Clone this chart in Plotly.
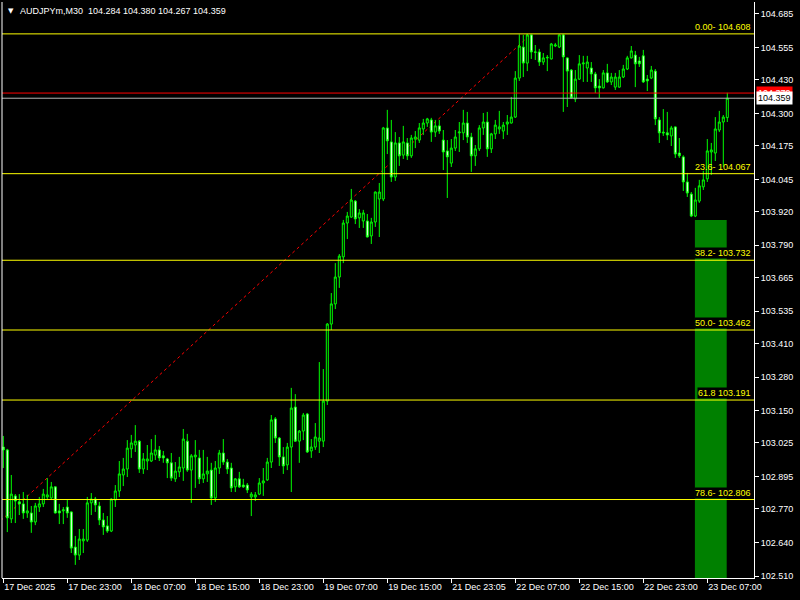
import plotly.graph_objects as go

# ---------------- data (AUDJPYm, M30) ----------------
OPEN = [103.009, 102.998, 102.731, 102.820, 102.797, 102.789, 102.754, 102.754, 102.719, 102.777,
        102.789, 102.816, 102.812, 102.855, 102.762, 102.762, 102.777, 102.758, 102.622, 102.591,
        102.646, 102.649, 102.793, 102.808, 102.781, 102.727, 102.704, 102.684, 102.804, 102.839,
        102.901, 102.924, 103.002, 103.017, 103.032, 102.924, 102.955, 102.955, 102.978, 102.998,
        102.975, 102.963, 102.948, 102.886, 102.913, 102.928, 103.032, 102.920, 102.971, 102.967,
        102.886, 102.905, 102.920, 102.812, 102.928, 102.986, 102.951, 102.928, 102.855, 102.886,
        102.862, 102.862, 102.816, 102.816, 102.827, 102.870, 102.882, 102.951, 103.118, 103.044,
        102.971, 102.940, 103.009, 103.164, 103.032, 103.071, 103.137, 102.994, 103.009, 103.032,
        103.032, 103.187, 103.485, 103.563, 103.667, 103.745, 103.876, 103.899, 103.961, 103.896,
        103.884, 103.884, 103.826, 103.880, 103.969, 103.969, 104.244, 104.190, 104.054, 104.186,
        104.139, 104.186, 104.136, 104.201, 104.197, 104.240, 104.263, 104.275, 104.228, 104.252,
        104.197, 104.155, 104.108, 104.166, 104.225, 104.225, 104.263, 104.209, 104.136, 104.163,
        104.244, 104.267, 104.163, 104.221, 104.240, 104.232, 104.259, 104.263, 104.286, 104.437,
        104.557, 104.495, 104.604, 104.538, 104.538, 104.499, 104.515, 104.511, 104.561, 104.557,
        104.604, 104.515, 104.468, 104.356, 104.433, 104.492, 104.476, 104.476, 104.453, 104.406,
        104.399, 104.457, 104.422, 104.402, 104.402, 104.441, 104.472, 104.515, 104.526, 104.503,
        104.523, 104.433, 104.437, 104.464, 104.275, 104.228, 104.225, 104.213, 104.248, 104.147,
        104.132, 104.035, 103.988, 103.903, 103.961, 104.016, 104.047, 104.151, 104.147, 104.236,
        104.267, 104.284]
HIGH = [103.052, 103.002, 102.901, 102.827, 102.827, 102.835, 102.824, 102.781, 102.793, 102.816,
        102.847, 102.889, 102.874, 102.857, 102.789, 102.777, 102.804, 102.760, 102.665, 102.692,
        102.692, 102.816, 102.831, 102.816, 102.797, 102.754, 102.742, 102.810, 102.862, 102.955,
        102.967, 103.036, 103.056, 103.094, 103.036, 102.986, 103.017, 103.040, 103.056, 103.013,
        102.994, 102.967, 102.986, 102.951, 102.971, 103.079, 103.060, 102.982, 103.036, 102.998,
        102.998, 102.971, 102.948, 102.955, 102.998, 103.040, 102.963, 102.948, 102.889, 102.913,
        102.886, 102.870, 102.835, 102.835, 102.889, 102.928, 102.967, 103.133, 103.125, 103.048,
        103.009, 103.025, 103.238, 103.214, 103.075, 103.141, 103.141, 103.040, 103.102, 103.338,
        103.311, 103.489, 103.605, 103.721, 103.756, 103.888, 103.919, 104.008, 103.965, 103.930,
        103.927, 103.911, 103.896, 103.998, 104.031, 104.248, 104.314, 104.275, 104.228, 104.209,
        104.252, 104.205, 104.217, 104.232, 104.263, 104.279, 104.283, 104.283, 104.275, 104.275,
        104.236, 104.197, 104.201, 104.236, 104.267, 104.314, 104.306, 104.225, 104.178, 104.255,
        104.302, 104.306, 104.225, 104.275, 104.310, 104.267, 104.294, 104.364, 104.464, 104.606,
        104.604, 104.608, 104.606, 104.565, 104.550, 104.534, 104.526, 104.573, 104.573, 104.605,
        104.607, 104.517, 104.472, 104.468, 104.526, 104.523, 104.523, 104.499, 104.461, 104.433,
        104.468, 104.492, 104.457, 104.457, 104.468, 104.488, 104.523, 104.561, 104.542, 104.519,
        104.546, 104.449, 104.484, 104.472, 104.286, 104.317, 104.306, 104.252, 104.250, 104.205,
        104.138, 104.070, 103.996, 104.012, 104.043, 104.078, 104.201, 104.186, 104.286, 104.310,
        104.294, 104.380]
LOW = [102.928, 102.680, 102.715, 102.715, 102.746, 102.731, 102.735, 102.677, 102.707, 102.758,
       102.777, 102.804, 102.804, 102.752, 102.711, 102.711, 102.735, 102.599, 102.553, 102.572,
       102.599, 102.642, 102.746, 102.758, 102.707, 102.669, 102.677, 102.680, 102.777, 102.816,
       102.858, 102.893, 102.967, 102.990, 102.909, 102.905, 102.920, 102.951, 102.959, 102.955,
       102.948, 102.889, 102.878, 102.874, 102.893, 102.878, 102.913, 102.793, 102.851, 102.866,
       102.870, 102.874, 102.785, 102.797, 102.905, 102.940, 102.905, 102.835, 102.835, 102.851,
       102.851, 102.831, 102.742, 102.800, 102.823, 102.820, 102.878, 102.928, 103.025, 102.936,
       102.905, 102.920, 102.835, 103.029, 102.948, 103.036, 102.986, 102.967, 102.998, 102.986,
       103.009, 103.172, 103.462, 103.543, 103.625, 103.721, 103.814, 103.896, 103.872, 103.857,
       103.857, 103.820, 103.795, 103.861, 103.822, 103.961, 104.143, 104.035, 104.039, 104.097,
       104.124, 104.120, 104.128, 104.166, 104.186, 104.217, 104.248, 104.190, 104.209, 104.221,
       104.081, 103.973, 104.093, 104.155, 104.151, 104.197, 104.186, 104.074, 104.097, 104.155,
       104.217, 104.132, 104.147, 104.201, 104.221, 104.201, 104.217, 104.261, 104.283, 104.426,
       104.441, 104.464, 104.511, 104.507, 104.484, 104.488, 104.464, 104.509, 104.557, 104.553,
       104.306, 104.325, 104.356, 104.344, 104.430, 104.422, 104.422, 104.422, 104.379, 104.360,
       104.397, 104.418, 104.410, 104.391, 104.400, 104.437, 104.468, 104.513, 104.402, 104.480,
       104.418, 104.387, 104.433, 104.255, 104.186, 104.213, 104.197, 104.174, 104.128, 104.128,
       104.000, 103.977, 103.899, 103.899, 103.954, 104.004, 104.035, 104.062, 104.116, 104.228,
       104.093, 104.267]
CLOSE = [102.998, 102.735, 102.827, 102.800, 102.789, 102.754, 102.762, 102.719, 102.781, 102.789,
         102.827, 102.824, 102.855, 102.754, 102.754, 102.766, 102.754, 102.618, 102.591, 102.653,
         102.653, 102.793, 102.808, 102.785, 102.727, 102.700, 102.684, 102.808, 102.839, 102.905,
         102.924, 103.005, 103.025, 103.032, 102.924, 102.963, 102.963, 102.986, 102.998, 102.967,
         102.967, 102.948, 102.889, 102.916, 102.932, 103.040, 102.920, 102.975, 102.978, 102.886,
         102.905, 102.916, 102.812, 102.928, 102.986, 102.951, 102.924, 102.851, 102.886, 102.855,
         102.855, 102.843, 102.827, 102.824, 102.870, 102.878, 102.951, 103.114, 103.044, 102.971,
         102.936, 103.009, 103.160, 103.032, 103.071, 103.133, 102.990, 103.009, 103.048, 103.044,
         103.187, 103.485, 103.563, 103.667, 103.748, 103.876, 103.903, 103.965, 103.892, 103.915,
         103.915, 103.822, 103.880, 103.996, 103.996, 104.244, 104.194, 104.054, 104.186, 104.136,
         104.190, 104.136, 104.205, 104.209, 104.244, 104.263, 104.279, 104.228, 104.252, 104.232,
         104.151, 104.132, 104.166, 104.209, 104.228, 104.263, 104.209, 104.136, 104.163, 104.244,
         104.267, 104.163, 104.221, 104.255, 104.248, 104.255, 104.267, 104.286, 104.437, 104.561,
         104.495, 104.604, 104.538, 104.537, 104.499, 104.515, 104.517, 104.569, 104.565, 104.604,
         104.519, 104.464, 104.360, 104.433, 104.492, 104.495, 104.499, 104.453, 104.399, 104.399,
         104.457, 104.422, 104.441, 104.441, 104.441, 104.472, 104.515, 104.542, 104.492, 104.492,
         104.422, 104.426, 104.468, 104.279, 104.225, 104.225, 104.217, 104.244, 104.143, 104.136,
         104.035, 103.992, 103.903, 103.965, 104.020, 104.043, 104.155, 104.159, 104.240, 104.267,
         104.286, 104.359]

X_TICK_IDX = [0, 16, 32, 48, 64, 80, 96, 112, 128, 144, 160, 176]
X_TICK_TEXT = ["17 Dec 2025", "17 Dec 23:00", "18 Dec 07:00", "18 Dec 15:00", "18 Dec 23:00",
               "19 Dec 07:00", "19 Dec 15:00", "21 Dec 23:05", "22 Dec 07:00", "22 Dec 15:00",
               "22 Dec 23:00", "23 Dec 07:00"]
Y_TICKS = [104.685, 104.555, 104.430, 104.300, 104.175, 104.045, 103.920, 103.790, 103.665,
           103.535, 103.410, 103.280, 103.150, 103.025, 102.895, 102.770, 102.640, 102.510]

FIB_NAMES = ["0.00-", "23.6-", "38.2-", "50.0-", "61.8", "78.6-"]
FIB_PRICES = [104.608, 104.067, 103.732, 103.462, 103.191, 102.806]
FIB_LABEL_BG = ["rgba(0,0,0,0)", "rgba(0,0,0,0)", "black", "black", "black", "black"]

TREND_X = [-29.4, 132]          # bar index of fib anchors
TREND_Y = [102.316, 104.608]    # fib 100% and 0% prices

ZONE_X = [172.9, 180.85]        # green box span (bar index)
ZONE_TOP = 103.888

ASK = 104.379
BID = 104.359
SYMBOL = "AUDJPYm,M30"

X_RANGE = [-0.325, 187.675]
Y_RANGE = [102.5023, 104.7314]

FONT = "Liberation Sans"
FIB_COLOR = "#FFFF00"

# ---------------- figure ----------------
idx = list(range(len(OPEN)))

fig = go.Figure()
fig.add_trace(go.Candlestick(
    x=idx, open=OPEN, high=HIGH, low=LOW, close=CLOSE,
    increasing=dict(line=dict(color="#00FF00", width=1), fillcolor="#000000"),
    decreasing=dict(line=dict(color="#00FF00", width=1), fillcolor="#FFFFFF"),
    whiskerwidth=0, showlegend=False, hoverinfo="skip",
))

shapes = []
# green zone (behind candles)
shapes.append(dict(type="rect", xref="x", yref="y", x0=ZONE_X[0], x1=ZONE_X[1],
                   y0=Y_RANGE[0], y1=ZONE_TOP, fillcolor="#008000", line=dict(width=0),
                   layer="below"))
# fib trend line
shapes.append(dict(type="line", xref="x", yref="y", x0=TREND_X[0], y0=TREND_Y[0],
                   x1=TREND_X[1], y1=TREND_Y[1],
                   line=dict(color="#FF0000", width=1, dash="dot"), layer="below"))
# fib levels
for p in FIB_PRICES:
    shapes.append(dict(type="line", xref="paper", yref="y", x0=0, x1=1, y0=p, y1=p,
                       line=dict(color=FIB_COLOR, width=1), layer="above"))
# bid / ask lines
shapes.append(dict(type="line", xref="paper", yref="y", x0=0, x1=1, y0=ASK, y1=ASK,
                   line=dict(color="#FF0000", width=1), layer="above"))
shapes.append(dict(type="line", xref="paper", yref="y", x0=0, x1=1, y0=BID, y1=BID,
                   line=dict(color="#B4B4B4", width=1), layer="above"))
# left frame line
shapes.append(dict(type="line", xref="paper", yref="paper", x0=0, x1=0, y0=0, y1=1,
                   line=dict(color="white", width=1)))

annotations = []
for name, p, bg in zip(FIB_NAMES, FIB_PRICES, FIB_LABEL_BG):
    annotations.append(dict(xref="paper", yref="y", x=1, y=p, xanchor="right", yanchor="bottom",
                            xshift=-2, yshift=1, text=f"{name} {p:.3f}", showarrow=False,
                            font=dict(family=FONT, size=9, color=FIB_COLOR),
                            bgcolor=bg, borderpad=0))
# price labels on the axis
annotations.append(dict(xref="paper", yref="y", x=1, y=ASK, xanchor="left", yanchor="middle",
                        xshift=2, text=f"{ASK:.3f}", showarrow=False,
                        font=dict(family=FONT, size=9, color="white"), bgcolor="#FF0000",
                        borderpad=1))
annotations.append(dict(xref="paper", yref="y", x=1, y=BID, xanchor="left", yanchor="middle",
                        xshift=2, text=f"{BID:.3f}", showarrow=False,
                        font=dict(family=FONT, size=9, color="black"), bgcolor="white",
                        borderpad=1))
# header
annotations.append(dict(xref="paper", yref="paper", x=0, y=1, xanchor="left", yanchor="top",
                        xshift=4, yshift=-3, text="▼", showarrow=False,
                        font=dict(family="DejaVu Sans", size=7, color="white")))
annotations.append(dict(xref="paper", yref="paper", x=0, y=1, xanchor="left", yanchor="top",
                        xshift=16, yshift=-2,
                        text=f"{SYMBOL}  {OPEN[-1]:.3f} {HIGH[-1]:.3f} {LOW[-1]:.3f} {CLOSE[-1]:.3f}",
                        showarrow=False, font=dict(family=FONT, size=9, color="white")))

fig.update_layout(
    width=800, height=600,
    margin=dict(l=2, r=46, t=2, b=22, autoexpand=False),
    paper_bgcolor="black", plot_bgcolor="black",
    font=dict(family=FONT, size=9, color="white"),
    showlegend=False, hovermode=False,
    boxgap=0.5, boxgroupgap=0,
    shapes=shapes, annotations=annotations,
    xaxis=dict(range=X_RANGE, showgrid=False, zeroline=False, rangeslider=dict(visible=False),
               automargin=False,
               tickmode="array", tickvals=X_TICK_IDX, ticktext=X_TICK_TEXT,
               ticks="outside", ticklen=4, tickcolor="white", ticklabelposition="outside right",
               showline=True, linecolor="white", linewidth=1,
               tickfont=dict(family=FONT, size=9, color="white")),
    yaxis=dict(range=Y_RANGE, side="right", showgrid=False, zeroline=False,
               automargin=False,
               tickmode="array", tickvals=Y_TICKS, tickformat=".3f",
               ticks="outside", ticklen=4, tickcolor="white",
               showline=True, linecolor="white", linewidth=1,
               tickfont=dict(family=FONT, size=9, color="white")),
)

fig.write_html(
    "out.html",
    config={"displayModeBar": False},
    post_script="document.body.style.margin='0px';document.body.style.background='black';",
)
